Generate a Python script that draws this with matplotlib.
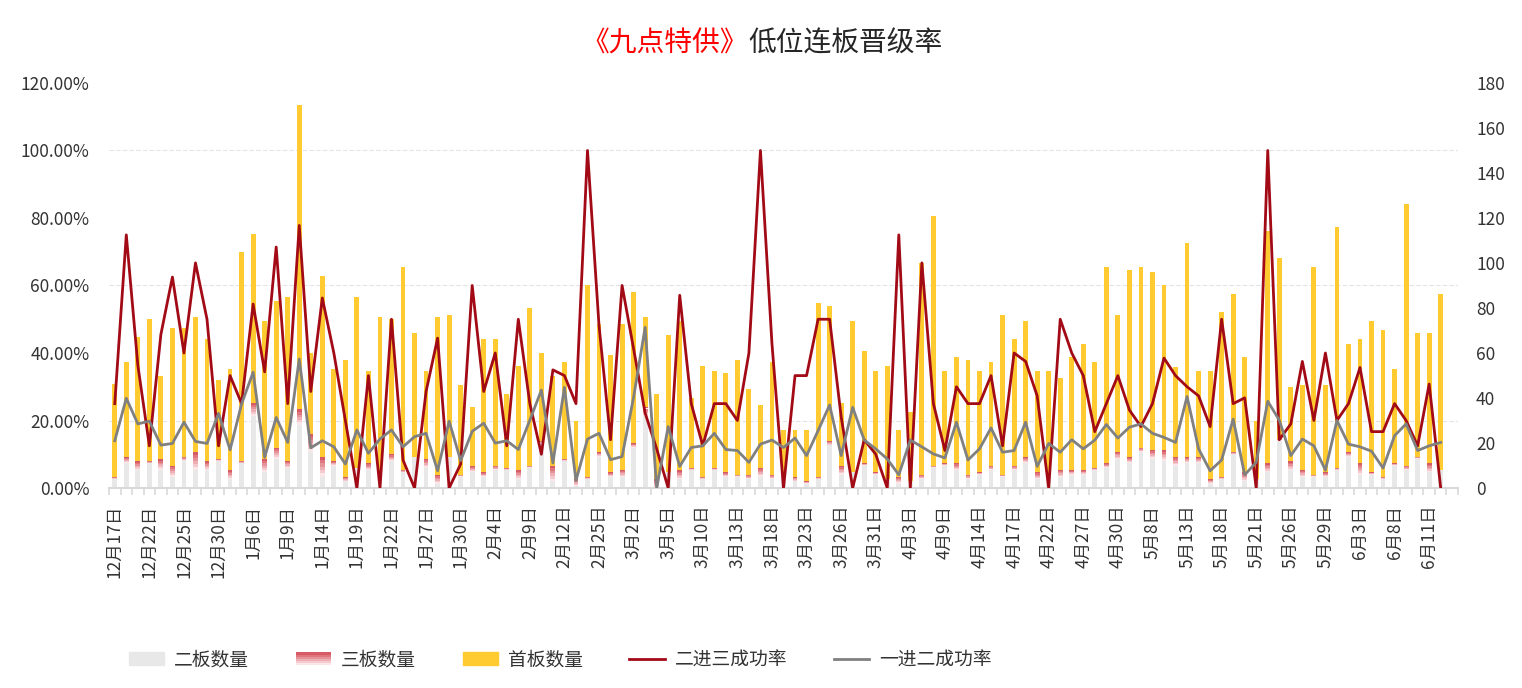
import numpy as np
import matplotlib
matplotlib.use("Agg")
import matplotlib.pyplot as plt
from matplotlib.colors import LinearSegmentedColormap
from matplotlib.legend_handler import HandlerBase
from matplotlib.lines import Line2D
from matplotlib.patches import Rectangle
from matplotlib.ticker import FuncFormatter

plt.rcParams["font.family"] = ["Noto Sans CJK SC", "DejaVu Sans"]

# x 轴标签，每隔 3 个交易日显示一个
tick_labels = ["12月17日", "12月22日", "12月25日", "12月30日", "1月6日", "1月9日",
               "1月14日", "1月19日", "1月22日", "1月27日", "1月30日", "2月4日",
               "2月9日", "2月12日", "2月25日", "3月2日", "3月5日", "3月10日",
               "3月13日", "3月18日", "3月23日", "3月26日", "3月31日", "4月3日",
               "4月9日", "4月14日", "4月17日", "4月22日", "4月27日", "4月30日",
               "5月8日", "5月13日", "5月18日", "5月21日", "5月26日", "5月29日",
               "6月3日", "6月8日", "6月11日"]

# 二板数量
erban = [4, 11, 8, 11, 8, 5, 12, 8, 8, 12,
         4, 11, 32, 7, 13, 9, 28, 16, 5, 10,
         3, 9, 8, 6, 12, 7, 14, 9, 2, 14,
         5, 7, 5, 8, 8, 4, 9, 20, 3, 12,
         1, 4, 14, 5, 5, 18, 32, 0, 7, 4,
         8, 4, 8, 5, 5, 4, 5, 4, 6, 3,
         2, 4, 19, 6, 7, 10, 6, 4, 2, 3,
         4, 9, 10, 8, 4, 6, 8, 5, 8, 11,
         4, 6, 5, 6, 6, 8, 9, 13, 11, 16,
         13, 12, 10, 11, 11, 2, 4, 15, 3, 4,
         7, 21, 8, 5, 5, 5, 8, 14, 6, 6,
         4, 10, 8, 13, 7, 8]

# 三板数量
sanban = [1, 3, 4, 1, 5, 5, 2, 8, 4, 1,
          4, 1, 6, 6, 5, 3, 7, 8, 9, 2,
          2, 0, 3, 0, 3, 1, 0, 4, 4, 0,
          1, 3, 2, 2, 1, 4, 1, 1, 7, 1,
          3, 1, 2, 2, 3, 2, 4, 4, 0, 4,
          1, 1, 1, 2, 1, 2, 4, 2, 0, 2,
          1, 1, 2, 4, 0, 1, 1, 0, 3, 0,
          2, 1, 1, 3, 2, 1, 2, 1, 2, 3,
          3, 0, 3, 2, 2, 1, 2, 3, 3, 2,
          4, 5, 4, 3, 3, 2, 1, 1, 4, 0,
          4, 1, 4, 3, 1, 2, 1, 2, 5, 1,
          1, 1, 2, 1, 4, 0]

# 首板数量
shouban = [41, 42, 55, 63, 37, 61, 57, 60, 54, 35,
           45, 93, 75, 61, 65, 73, 135, 36, 80, 41,
           52, 76, 41, 70, 60, 90, 55, 39, 70, 63,
           40, 26, 59, 56, 33, 46, 70, 39, 40, 43,
           26, 85, 57, 52, 65, 67, 40, 38, 61, 66,
           31, 49, 43, 44, 51, 38, 28, 50, 20, 21,
           23, 77, 60, 28, 67, 50, 45, 50, 21, 31,
           94, 111, 41, 47, 51, 45, 46, 71, 56, 60,
           45, 46, 41, 50, 56, 47, 87, 61, 83, 80,
           79, 73, 40, 95, 38, 48, 73, 70, 51, 26,
           103, 80, 33, 38, 92, 39, 107, 48, 55, 67,
           65, 42, 116, 55, 58, 78]

# 二进三成功率 (%)
erjinsan = [25, 75, 36.4, 12.5, 45.5, 62.5, 40, 66.7, 50, 12.5,
            33.3, 25, 54.5, 34.4, 71.4, 25, 77.8, 28.6, 56.3, 40,
            20, 0, 33.3, 0, 50, 8.3, 0, 28.6, 44.4, 0,
            7.1, 60, 28.6, 40, 12.5, 50, 25, 10, 35, 33.3,
            25, 100, 48.1, 14.3, 60, 41.2, 22.2, 11.6, 0, 57.1,
            25, 12.5, 25, 25, 20, 40, 100, 42.7, 0, 33.3,
            33.3, 50, 50, 21.1, 0, 14.3, 10, 0, 75, 0,
            66.7, 25, 11.1, 30, 25, 25, 33.3, 12.5, 40, 37.5,
            27.3, 0, 50, 40, 33.3, 16.7, 25, 33.3, 23.1, 18.2,
            25, 38.5, 33.3, 30, 27.3, 18.2, 50, 25, 26.7, 0,
            100, 14.3, 19, 37.5, 20, 40, 20, 25, 35.7, 16.7,
            16.7, 25, 20, 12.5, 30.8, 0]

# 一进二成功率 (%)
yijiner = [14.0, 26.6, 19.0, 19.8, 12.7, 13.2, 19.5, 13.8, 13.2, 22.1,
           11.3, 24.9, 34.3, 9.1, 20.9, 13.5, 38.2, 11.9, 14.0, 12.2,
           7.1, 17.2, 10.3, 14.5, 17.2, 12.2, 15.2, 16.2, 5.1, 19.8,
           8.1, 16.8, 19.2, 13.3, 14.0, 11.4, 20.1, 29.0, 7.4, 29.8,
           2.2, 14.5, 16.2, 8.4, 9.3, 26.9, 47.6, 0.0, 18.2, 6.4,
           12.0, 12.5, 16.2, 11.4, 11.1, 7.6, 13.0, 14.2, 12.0, 14.8,
           9.6, 17.0, 24.6, 9.6, 23.9, 14.2, 11.6, 8.6, 3.9, 14.2,
           12.2, 10.1, 8.9, 19.5, 8.3, 11.6, 17.8, 10.6, 11.1, 19.5,
           6.4, 13.2, 10.6, 14.3, 11.6, 14.2, 18.8, 14.8, 18.0, 19.0,
           16.2, 15.0, 13.5, 27.1, 11.6, 5.1, 8.3, 20.4, 3.9, 7.6,
           25.7, 20.1, 9.6, 14.5, 12.5, 5.3, 20.0, 13.0, 12.2, 10.9,
           5.9, 15.5, 19.0, 11.1, 12.5, 13.5]

GRAY_BAR = "#E8E8E8"
YELLOW = "#FFCB30"
RED_LINE = "#A20A16"
GRAY_LINE = "#808080"
TEXT = "#333333"
PINK = LinearSegmentedColormap.from_list("pink", ["#FBE6E8", "#D85A65"])
N_SLICES = 6


class GradientHandler(HandlerBase):
    """Legend box filled with the vertical pink gradient (light at bottom)."""

    def create_artists(self, legend, orig_handle, xdescent, ydescent,
                       width, height, fontsize, trans):
        arts = []
        for k in range(N_SLICES):
            arts.append(Rectangle((-xdescent, -ydescent + height * k / N_SLICES),
                                  width, height / N_SLICES + 0.3,
                                  facecolor=PINK(k / (N_SLICES - 1)),
                                  edgecolor="none", transform=trans))
        return arts


e = np.array(erban, dtype=float)
s = np.array(sanban, dtype=float)
f = np.array(shouban, dtype=float)
x = np.arange(len(f))

fig = plt.figure(figsize=(15.22, 6.88), dpi=100)
ax = fig.add_axes([109 / 1522, 200 / 688, 1349 / 1522, 405 / 688])
ax2 = ax.twinx()

bar_w = 0.42
ax.bar(x, e, bar_w, color=GRAY_BAR, linewidth=0, zorder=2)
for k in range(N_SLICES):
    ax.bar(x, s / N_SLICES, bar_w, bottom=e + s * k / N_SLICES,
           color=PINK(k / (N_SLICES - 1)), linewidth=0, zorder=2)
ax.bar(x, f, bar_w, bottom=e + s, color=YELLOW, linewidth=0, zorder=2)

ax.set_xlim(-0.5, len(x) + 0.5)
ax.set_ylim(0, 180)
ax.yaxis.tick_right()
ax.set_yticks(range(0, 181, 20))
ax.tick_params(axis="y", length=0, pad=13, labelsize=12.5, labelcolor=TEXT)
ax.set_yticks(np.arange(30, 181, 30), minor=True)
ax.tick_params(axis="y", which="minor", length=0)
ax.yaxis.grid(True, which="minor", linestyle=(0, (4, 2)), color="#E3E3E3", linewidth=0.8)
ax.set_axisbelow(True)

ax.set_xticks(x[::3])
ax.set_xticklabels(tick_labels, rotation=90)
ax.set_xticks(np.arange(-0.5, len(x) + 1, 1), minor=True)
ax.tick_params(axis="x", which="major", length=0, pad=12, labelsize=12.5, labelcolor=TEXT)
ax.tick_params(axis="x", which="minor", length=5, width=1.2, color="#D9D9D9")

ax2.plot(x, erjinsan, color=RED_LINE, linewidth=2, zorder=3)
ax2.plot(x, yijiner, color=GRAY_LINE, linewidth=2, zorder=4)
ax2.set_ylim(0, 120)
ax2.yaxis.tick_left()
ax2.set_yticks(range(0, 121, 20))
ax2.yaxis.set_major_formatter(FuncFormatter(lambda v, _: f"{v:.2f}%"))
ax2.tick_params(axis="y", length=0, pad=14, labelsize=12.5, labelcolor=TEXT)

for a in (ax, ax2):
    for sp in a.spines.values():
        sp.set_visible(False)
ax.spines["bottom"].set_visible(True)
ax.spines["bottom"].set_color("#D9D9D9")
ax.spines["bottom"].set_linewidth(1.5)

fig.text(0.4915, 0.937, "《九点特供》", color="#FF0000", fontsize=20, ha="right", va="center")
fig.text(0.4915, 0.937, "低位连板晋级率", color="#262626", fontsize=20, ha="left", va="center")

handles = [Rectangle((0, 0), 1, 1, color=GRAY_BAR),
           Rectangle((0, 0), 1, 1, color="#E8A0A6"),
           Rectangle((0, 0), 1, 1, color=YELLOW),
           Line2D([], [], color=RED_LINE, linewidth=2),
           Line2D([], [], color=GRAY_LINE, linewidth=2)]
labels = ["二板数量", "三板数量", "首板数量", "二进三成功率", "一进二成功率"]
fig.legend(handles, labels, loc="center", bbox_to_anchor=(0.368, 0.041), ncol=5,
           frameon=False, fontsize=13.5, handlelength=1.9, handleheight=0.65,
           handletextpad=0.5, columnspacing=2.5, labelcolor=TEXT,
           handler_map={handles[1]: GradientHandler()})

fig.savefig("out.png", dpi=100)
